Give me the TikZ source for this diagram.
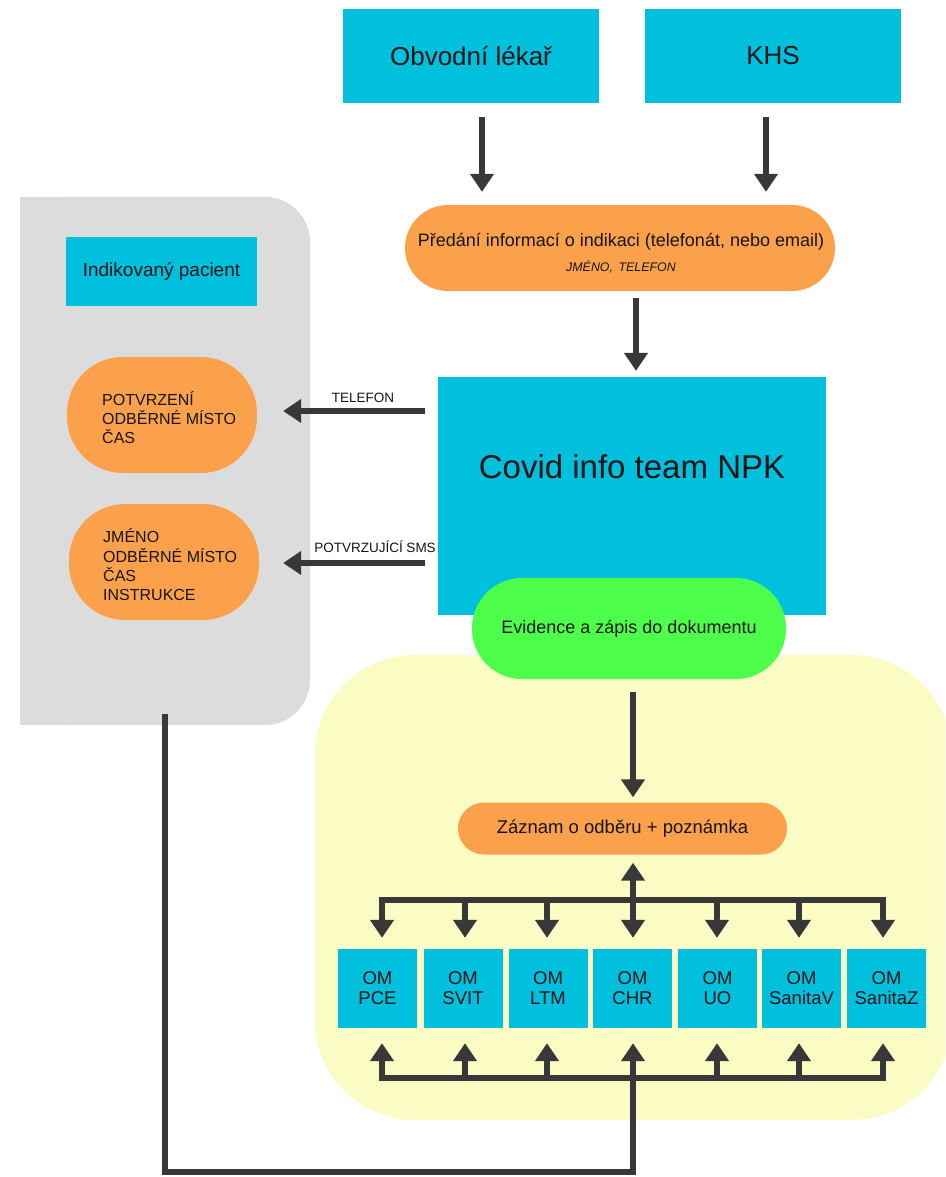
\documentclass[tikz,border=0pt]{standalone}
\usepackage{fontspec}
\setmainfont{Liberation Sans}
\usetikzlibrary{arrows.meta}
\definecolor{cy}{HTML}{00C0DE}
\definecolor{orn}{HTML}{FBA14B}
\definecolor{grn}{HTML}{4DFF4A}
\definecolor{gry}{HTML}{DCDCDC}
\definecolor{ylw}{HTML}{FBFCC3}
\definecolor{arc}{HTML}{383838}
\definecolor{txt}{HTML}{151515}
\newcommand{\fs}[2]{\fontsize{#1}{#2}\selectfont}
\begin{document}
\begin{tikzpicture}[x=1pt,y=-1pt,
  every node/.style={text=txt},
  cbox/.style={fill=cy, inner sep=0pt, align=center},
  pill/.style={fill=orn, inner sep=0pt, align=center},
  arr/.style={draw=arc, line width=5.5pt, -{Triangle[width=23pt,length=18pt]}},
  darr/.style={draw=arc, line width=5.5pt, {Triangle[width=23pt,length=18pt]}-{Triangle[width=23pt,length=18pt]}},
  conn/.style={draw=arc, line width=5.5pt},
  lbl/.style={inner sep=0pt, font=\fs{13.5}{15}},
  omstyle/.style={cbox, minimum width=79pt, minimum height=79pt, font=\fs{18.5}{20}}]
\clip (0,0) rectangle (945,1177);
\fill[white] (0,0) rectangle (945,1177);
% panels
\fill[ylw, rounded corners=100pt] (315,655) rectangle (952,1120);
\fill[gry, rounded corners=45pt] (20,197) rectangle (310,725);
\fill[gry] (20,197) rectangle (120,725);

% top boxes
\node[cbox, minimum width=256pt, minimum height=94pt, font=\fs{26}{30}] (obv) at (471,56) {Obvodní lékař};
\node[cbox, minimum width=256pt, minimum height=94pt, font=\fs{26}{30}] (khs) at (773,56) {KHS};

\node[pill, minimum width=430pt, minimum height=86pt, rounded corners=43pt] (pred) at (620,248) {};
\node[inner sep=0pt, font=\fs{18}{20}] (predt) at (621,242) {Předání informací o indikaci (telefonát, nebo email)};
\node[inner sep=0pt, font=\fs{12.4}{14}\itshape] (predt2) at (621,267) {JMÉNO,\hspace{0.45em}TELEFON};

\node[cbox, minimum width=388pt, minimum height=238pt] (cov) at (632,496) {};
\node[inner sep=0pt, font=\fs{33}{36}] (covt) at (632,467) {Covid info team NPK};

\node[fill=grn, inner sep=0pt, minimum width=314pt, minimum height=101pt, rounded corners=50pt, font=\fs{18}{20}] (evid) at (629,628.5) {Evidence a zápis do dokumentu};

% left panel
\node[cbox, minimum width=191pt, minimum height=69pt, font=\fs{19}{22}] (pac) at (161.5,271.5) {Indikovaný pacient};
\node[pill, minimum width=190pt, minimum height=116pt, rounded corners=56pt] (e1) at (162,415) {};
\node[inner sep=0pt, anchor=west, align=left, font=\fs{16}{19}] (e1t) at (102,418) {POTVRZENÍ\\ODBĚRNÉ MÍSTO\\ČAS};
\node[pill, minimum width=190pt, minimum height=116pt, rounded corners=56pt] (e2) at (164,562) {};
\node[inner sep=0pt, anchor=west, align=left, font=\fs{16}{19.3}] (e2t) at (103,565) {JMÉNO\\ODBĚRNÉ MÍSTO\\ČAS\\INSTRUKCE};

% arrows top
\coordinate (xa) at (482,0);
\coordinate (xb) at (766,0);
\coordinate (xc) at (636,0);
\draw[arr, shorten <=14pt, shorten >=13pt] (obv.south -| xa) -- (pred.north -| xa);
\draw[arr, shorten <=14pt, shorten >=13pt] (khs.south -| xb) -- (pred.north -| xb);
\draw[arr, shorten <=7pt, shorten >=6pt] (pred.south -| xc) -- (cov.north -| xc);

% arrows left
\coordinate (ya) at (0,411);
\coordinate (yb) at (0,563);
\draw[arr, shorten <=13pt, shorten >=26pt] (cov.west |- ya) -- (e1.east |- ya);
\draw[arr, shorten <=13pt, shorten >=24pt] (cov.west |- yb) -- (e2.east |- yb);
\node[lbl] (l1) at (363,398) {TELEFON};
\node[lbl] (l2) at (375,547) {POTVRZUJÍCÍ SMS};

% lower part
\node[pill, minimum width=329pt, minimum height=52pt, rounded corners=26pt, font=\fs{18.5}{20}] (zaz) at (622.5,828.5) {Záznam o odběru + poznámka};
\coordinate (xd) at (633,0);
\draw[arr, shorten <=13pt, shorten >=5pt] (evid.south -| xd) -- (zaz.north -| xd);

\node[omstyle] (om1) at (377.5,988.5) {OM\\PCE};
\node[omstyle] (om2) at (463,988.5) {OM\\SVIT};
\node[omstyle] (om3) at (548,988.5) {OM\\LTM};
\node[omstyle] (om4) at (632.5,988.5) {OM\\CHR};
\node[omstyle] (om5) at (717.5,988.5) {OM\\UO};
\node[omstyle] (om6) at (801.5,988.5) {OM\\SanitaV};
\node[omstyle] (om7) at (886.5,988.5) {OM\\SanitaZ};

% top bus
\coordinate (bt) at (0,900);
\coordinate (x1) at (382,0);
\coordinate (x2) at (465,0);
\coordinate (x3) at (547,0);
\coordinate (x4) at (633,0);
\coordinate (x5) at (717,0);
\coordinate (x6) at (799,0);
\coordinate (x7) at (883,0);
\draw[darr, shorten <=8pt, shorten >=11pt] (zaz.south -| x4) -- (om4.north -| x4);
\draw[arr, shorten >=11pt] (x4 |- bt) -| (om1.north -| x1);
\draw[arr, shorten >=11pt] (x4 |- bt) -| (om7.north -| x7);
\draw[arr, shorten >=11pt] (x2 |- bt) -- (om2.north -| x2);
\draw[arr, shorten >=11pt] (x3 |- bt) -- (om3.north -| x3);
\draw[arr, shorten >=11pt] (x5 |- bt) -- (om5.north -| x5);
\draw[arr, shorten >=11pt] (x6 |- bt) -- (om6.north -| x6);

% bottom bus
\coordinate (bb) at (0,1078);
\draw[arr, shorten >=15pt] (x4 |- bb) -| (om1.south -| x1);
\draw[arr, shorten >=15pt] (x4 |- bb) -| (om7.south -| x7);
\draw[arr, shorten >=15pt] (x2 |- bb) -- (om2.south -| x2);
\draw[arr, shorten >=15pt] (x3 |- bb) -- (om3.south -| x3);
\draw[arr, shorten >=15pt] (x4 |- bb) -- (om4.south -| x4);
\draw[arr, shorten >=15pt] (x5 |- bb) -- (om5.south -| x5);
\draw[arr, shorten >=15pt] (x6 |- bb) -- (om6.south -| x6);

% feed line from patient panel
\coordinate (gp) at (165,714);
\coordinate (lb) at (0,1172);
\draw[conn] (gp) -- (gp |- lb) -- (x4 |- lb) -- (x4 |- bb);
\end{tikzpicture}
\end{document}
